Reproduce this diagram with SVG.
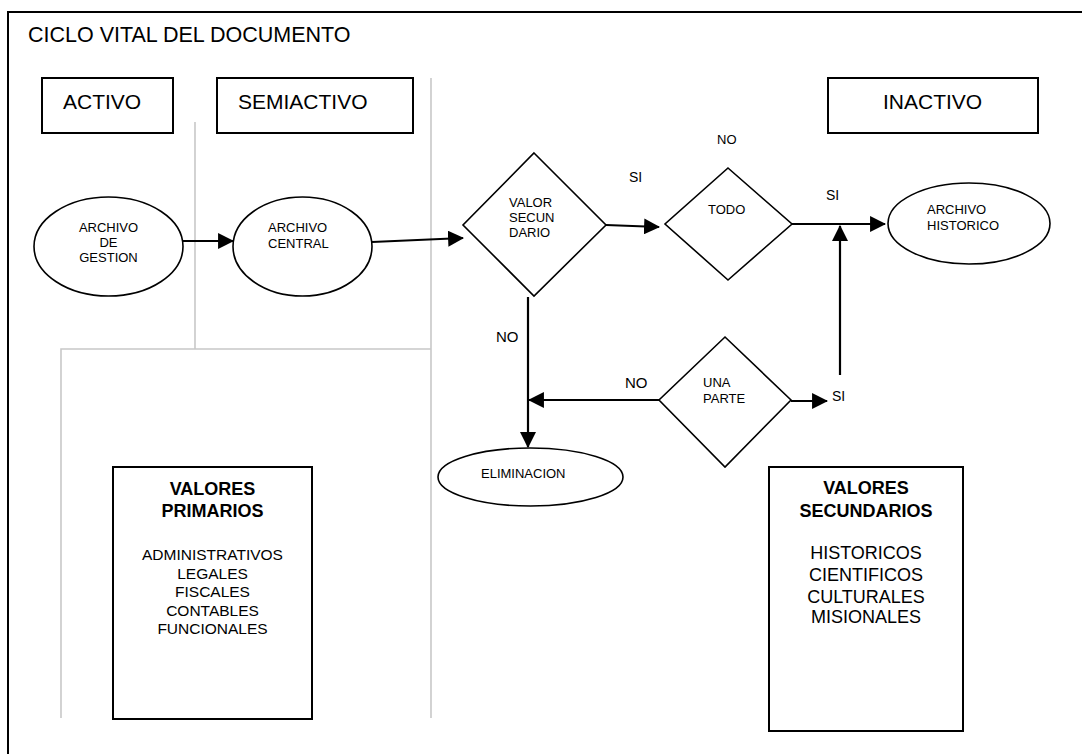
<svg xmlns="http://www.w3.org/2000/svg" width="1082" height="754" viewBox="0 0 1082 754">
<style>
text{font-family:"Liberation Sans",Arial,sans-serif;fill:#000}
.box{fill:#fff;stroke:#000;stroke-width:2}
.shape{fill:#fff;stroke:#000;stroke-width:1.6}
.guide{fill:none;stroke:#c8c8c8;stroke-width:1.6}
.conn{fill:none;stroke:#000;stroke-width:2.2}
.hdr{font-size:21px}
.sm{font-size:13px}
.lbl{font-size:14px}
.b{font-weight:bold;font-size:18px}
</style>
<defs>
<marker id="ah" markerUnits="userSpaceOnUse" markerWidth="16" markerHeight="16" viewBox="0 0 15 15" refX="14" refY="7.5" orient="auto">
<path d="M0,0 L15,7.5 L0,15 z" fill="#000"/>
</marker>
</defs>
<rect width="1082" height="754" fill="#fff"/>
<path d="M8,754 V12 H1082" fill="none" stroke="#000" stroke-width="2"/>
<text x="28" y="42" style="font-size:21.5px">CICLO VITAL DEL DOCUMENTO</text>

<g id="guides">
<path class="guide" d="M195,122 V349 M431,78 V718 M61,718 V349 H431"/>
</g>

<g id="activo"><rect class="box" x="42" y="78" width="131" height="55"/><text x="63" y="109" class="hdr">ACTIVO</text></g>
<g id="semiactivo"><rect class="box" x="217" y="78" width="196" height="55"/><text x="238" y="109" class="hdr">SEMIACTIVO</text></g>
<g id="inactivo"><rect class="box" x="828" y="78" width="210" height="55"/><text x="883" y="109" class="hdr">INACTIVO</text></g>

<g id="connectors">
<line class="conn" x1="183" y1="241" x2="233" y2="241" marker-end="url(#ah)"/>
<line class="conn" x1="372" y1="242" x2="463" y2="238" marker-end="url(#ah)"/>
<line class="conn" x1="606" y1="225" x2="659" y2="227" marker-end="url(#ah)"/>
<line class="conn" x1="792" y1="224" x2="885" y2="224" marker-end="url(#ah)"/>
<line class="conn" x1="840" y1="375" x2="840" y2="226" marker-end="url(#ah)"/>
<line class="conn" x1="528" y1="297" x2="528" y2="447" marker-end="url(#ah)"/>
<line class="conn" x1="659" y1="400" x2="529" y2="400" marker-end="url(#ah)"/>
<line class="conn" x1="791" y1="401" x2="827" y2="401" marker-end="url(#ah)"/>
<text x="629" y="182" class="lbl">SI</text>
<text x="717" y="144" class="sm">NO</text>
<text x="826" y="200" class="lbl">SI</text>
<text x="496" y="342" style="font-size:15px">NO</text>
<text x="625" y="388" style="font-size:15px">NO</text>
<text x="832" y="401" class="lbl">SI</text>
</g>

<g id="archivo-gestion">
<ellipse class="shape" cx="108.5" cy="246.5" rx="74.5" ry="49.5"/>
<text class="sm" text-anchor="middle"><tspan x="108.5" y="232">ARCHIVO</tspan><tspan x="108.5" y="247">DE</tspan><tspan x="108.5" y="262">GESTION</tspan></text>
</g>
<g id="archivo-central">
<ellipse class="shape" cx="302.5" cy="246.5" rx="69.5" ry="49.5"/>
<text class="sm"><tspan x="268" y="232">ARCHIVO</tspan><tspan x="268" y="248">CENTRAL</tspan></text>
</g>
<g id="valor-secundario">
<polygon class="shape" points="534,153 606,225 534,296 463,225"/>
<text class="sm"><tspan x="509" y="207">VALOR</tspan><tspan x="509" y="222">SECUN</tspan><tspan x="509" y="237">DARIO</tspan></text>
</g>
<g id="todo">
<polygon class="shape" points="728,168 792,224 728,280 665,224"/>
<text class="sm" x="708" y="214">TODO</text>
</g>
<g id="archivo-historico">
<ellipse class="shape" cx="969" cy="223.5" rx="81" ry="40.5"/>
<text class="sm"><tspan x="927" y="214">ARCHIVO</tspan><tspan x="927" y="230">HISTORICO</tspan></text>
</g>
<g id="una-parte">
<polygon class="shape" points="725,337 791,400 725,467 659,400"/>
<text class="sm"><tspan x="703" y="387">UNA</tspan><tspan x="703" y="403">PARTE</tspan></text>
</g>
<g id="eliminacion">
<ellipse class="shape" cx="530.5" cy="477" rx="92.5" ry="29"/>
<text class="sm" x="481" y="478">ELIMINACION</text>
</g>

<g id="valores-primarios">
<rect class="box" x="113" y="467" width="199" height="252"/>
<text class="b" text-anchor="middle"><tspan x="212.5" y="495">VALORES</tspan><tspan x="212.5" y="517">PRIMARIOS</tspan></text>
<text text-anchor="middle" style="font-size:15.5px"><tspan x="212.5" y="560">ADMINISTRATIVOS</tspan><tspan x="212.5" y="579">LEGALES</tspan><tspan x="212.5" y="597">FISCALES</tspan><tspan x="212.5" y="616">CONTABLES</tspan><tspan x="212.5" y="634">FUNCIONALES</tspan></text>
</g>
<g id="valores-secundarios">
<rect class="box" x="769" y="467" width="194" height="264"/>
<text class="b" text-anchor="middle"><tspan x="866" y="494">VALORES</tspan><tspan x="866" y="517">SECUNDARIOS</tspan></text>
<text text-anchor="middle" style="font-size:18px"><tspan x="866" y="559">HISTORICOS</tspan><tspan x="866" y="581">CIENTIFICOS</tspan><tspan x="866" y="603">CULTURALES</tspan><tspan x="866" y="623">MISIONALES</tspan></text>
</g>
</svg>
